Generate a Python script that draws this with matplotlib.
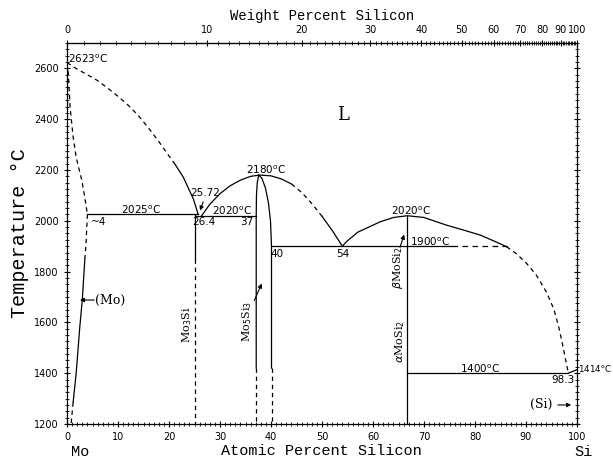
import numpy as np
import matplotlib
matplotlib.use('Agg')
import matplotlib.pyplot as plt
from matplotlib.ticker import MultipleLocator, FixedLocator

# ---- phase boundary data (atomic % Si, temperature in C) ----
mo_liq_dash_x = [0, 2, 4, 6, 8, 10, 12, 14, 16, 18, 20, 21]
mo_liq_dash_T = [2623, 2597, 2575, 2552, 2522, 2490, 2455, 2414, 2365, 2312, 2255, 2228]
mo_liq_solid_x = [21, 22.8, 24.8, 25.72]
mo_liq_solid_T = [2228, 2172, 2085, 2025]

mo_solidus_x = [0, 0.25, 0.6, 1.2, 1.8, 2.4, 2.9, 3.5, 4]
mo_solidus_T = [2623, 2580, 2450, 2330, 2250, 2200, 2160, 2090, 2025]

mo_solvus_top_x = [4, 3.7, 3.5]
mo_solvus_top_T = [2025, 1900, 1850]
mo_solvus_mid_x = [3.5, 3.0, 2.5, 1.8, 1.2]
mo_solvus_mid_T = [1850, 1690, 1580, 1400, 1285]
mo_solvus_low_x = [1.2, 0.8]
mo_solvus_low_T = [1285, 1200]

liq2_x = [26.4, 28, 30, 32, 34, 36, 37.8, 40, 42, 44]
liq2_T = [2020, 2065, 2107, 2138, 2160, 2175, 2180, 2177, 2165, 2145]
liq2_dash_x = [44, 46, 48, 50]
liq2_dash_T = [2145, 2112, 2068, 2018]
liq2_end_x = [50, 52, 54]
liq2_end_T = [2018, 1962, 1900]

m53_left_x = [37.6, 37.3, 37.15, 37.1, 37.1]
m53_left_T = [2180, 2150, 2100, 2020, 1420]
m53_right_x = [37.6, 38.2, 38.9, 39.5, 39.9, 40.1, 40.1]
m53_right_T = [2180, 2168, 2130, 2070, 2000, 1900, 1420]

msi2_liq_x = [54, 54.8, 57, 61.4, 64, 66.7, 70, 74.4, 78, 81, 84, 86.2]
msi2_liq_T = [1900, 1918, 1955, 1996, 2013, 2020, 2013, 1983, 1962, 1944, 1918, 1898]
si_liq_dash_x = [86.2, 88, 90, 92, 94, 95.5, 96.5, 97.3, 97.8, 98.3]
si_liq_dash_T = [1898, 1872, 1835, 1787, 1720, 1650, 1575, 1500, 1450, 1400]
si_end_x = [98.3, 100]
si_end_T = [1400, 1414]

mo3si_x = 25
mo5si3_left = 37.1
mo5si3_right = 40.1
mosi2_x = 66.7

# horizontal invariants: (T, x_start, x_end)
iso_2025 = (2025, 4, 25.72)
iso_2020 = (2020, 25, 37.1)
iso_1900_solid = (1900, 40.1, 75.4)
iso_1900_dash = (1900, 75.4, 86.2)
iso_1400 = (1400, 66.7, 98.3)

wt_ticks = [0, 10, 20, 30, 40, 50, 60, 70, 80, 90, 100]

M_SI = 28.0855
M_MO = 95.95


def at_to_wt(x):
    x = np.clip(np.asarray(x, dtype=float), 0, 100)
    return 100 * x * M_SI / (x * M_SI + (100 - x) * M_MO)


def wt_to_at(w):
    w = np.clip(np.asarray(w, dtype=float), 0, 100)
    return 100 * (w / M_SI) / (w / M_SI + (100 - w) / M_MO)


plt.rcParams['font.family'] = 'DejaVu Sans'
fig = plt.figure(figsize=(6.13, 4.59), dpi=100)
ax = fig.add_axes([67 / 613, 1 - 424 / 459, 510 / 613, 381 / 459])

lw = 0.9
dash = (0, (3.5, 3))
k = 'black'

ax.plot(mo_liq_dash_x, mo_liq_dash_T, color=k, lw=lw, ls=dash)
ax.plot(mo_liq_solid_x, mo_liq_solid_T, color=k, lw=lw)
ax.plot(mo_solidus_x, mo_solidus_T, color=k, lw=lw, ls=dash)
ax.plot(mo_solvus_top_x, mo_solvus_top_T, color=k, lw=lw, ls=dash)
ax.plot(mo_solvus_mid_x, mo_solvus_mid_T, color=k, lw=lw)
ax.plot(mo_solvus_low_x, mo_solvus_low_T, color=k, lw=lw, ls=dash)

ax.plot(liq2_x, liq2_T, color=k, lw=lw)
ax.plot(liq2_dash_x, liq2_dash_T, color=k, lw=lw, ls=dash)
ax.plot(liq2_end_x, liq2_end_T, color=k, lw=lw)

ax.plot(m53_left_x, m53_left_T, color=k, lw=lw)
ax.plot(m53_right_x, m53_right_T, color=k, lw=lw)
ax.plot([mo5si3_left, mo5si3_left], [1420, 1200], color=k, lw=lw, ls=dash)
ax.plot([mo5si3_right, mo5si3_right], [1420, 1200], color=k, lw=lw, ls=dash)

ax.plot([mo3si_x, mo3si_x], [2025, 1850], color=k, lw=lw)
ax.plot([mo3si_x, mo3si_x], [1850, 1200], color=k, lw=lw, ls=dash)

ax.plot(msi2_liq_x, msi2_liq_T, color=k, lw=lw)
ax.plot(si_liq_dash_x, si_liq_dash_T, color=k, lw=lw, ls=dash)
ax.plot(si_end_x, si_end_T, color=k, lw=lw)
ax.plot([mosi2_x, mosi2_x], [2020, 1200], color=k, lw=lw)

for T, x0, x1 in [iso_2025, iso_2020, iso_1900_solid, iso_1400]:
    ax.plot([x0, x1], [T, T], color=k, lw=lw)
ax.plot([iso_1900_dash[1], iso_1900_dash[2]], [iso_1900_dash[0]] * 2, color=k, lw=lw,
        ls=(0, (4.5, 3.5)))

# ---- labels ----
fs = 7.5
deg = '$^{\\rm o}$C'
ax.text(0.2, 2637, '2623' + deg, fontsize=fs, va='center', ha='left')
ax.text(27.1, 2109, '25.72', fontsize=fs, ha='center', va='center')
ax.annotate('', xy=(25.9, 2030), xytext=(26.9, 2085),
            arrowprops=dict(arrowstyle='-|>', color=k, lw=0.8, mutation_scale=6))
ax.text(14.5, 2043, '2025' + deg, fontsize=fs, ha='center', va='center')
ax.text(4.6, 1995, '~4', fontsize=fs, ha='left', va='center')
ax.text(32.4, 2039, '2020' + deg, fontsize=fs, ha='center', va='center')
ax.text(26.9, 1995, '26.4', fontsize=fs, ha='center', va='center')
ax.text(35.3, 1995, '37', fontsize=fs, ha='center', va='center')
ax.text(39.0, 2200, '2180' + deg, fontsize=fs, ha='center', va='center')
ax.text(41.2, 1869, '40', fontsize=fs, ha='center', va='center')
ax.text(54.1, 1869, '54', fontsize=fs, ha='center', va='center')
ax.text(67.5, 2039, '2020' + deg, fontsize=fs, ha='center', va='center')
ax.text(71.2, 1917, '1900' + deg, fontsize=fs, ha='center', va='center')
ax.text(81.0, 1417, '1400' + deg, fontsize=fs, ha='center', va='center')
ax.text(97.3, 1373, '98.3', fontsize=fs, ha='center', va='center')
ax.text(100.2, 1420, '1414' + deg, fontsize=6.3, ha='left', va='center', clip_on=False)

ax.text(92.9, 1275, '(Si)', fontsize=9, family='DejaVu Serif', ha='center', va='center')
ax.annotate('', xy=(99.4, 1275), xytext=(95.7, 1275),
            arrowprops=dict(arrowstyle='-|>', color=k, lw=0.8, mutation_scale=6))
ax.text(8.4, 1688, '(Mo)', fontsize=9, family='DejaVu Serif', ha='center', va='center')
ax.annotate('', xy=(2.0, 1688), xytext=(5.9, 1688),
            arrowprops=dict(arrowstyle='-|>', color=k, lw=0.8, mutation_scale=6))

ax.text(23.5, 1590, 'Mo$_3$Si', fontsize=8, family='DejaVu Serif', rotation=90,
        ha='center', va='center')
ax.text(35.3, 1602, 'Mo$_5$Si$_3$', fontsize=8, family='DejaVu Serif', rotation=90,
        ha='center', va='center')
ax.annotate('', xy=(38.4, 1763), xytext=(36.5, 1676),
            arrowprops=dict(arrowstyle='-|>', color=k, lw=0.8, mutation_scale=6))
ax.text(64.9, 1814, '$\\beta$MoSi$_2$', fontsize=8, family='DejaVu Serif', rotation=90,
        ha='center', va='center')
ax.annotate('', xy=(66.3, 1956), xytext=(65.1, 1885),
            arrowprops=dict(arrowstyle='-|>', color=k, lw=0.8, mutation_scale=6))
ax.text(65.3, 1523, '$\\alpha$MoSi$_2$', fontsize=8, family='DejaVu Serif', rotation=90,
        ha='center', va='center')
ax.text(54.1, 2417, 'L', fontsize=13, family='DejaVu Serif', ha='center', va='center')

# ---- axes ----
ax.set_xlim(0, 100)
ax.set_ylim(1200, 2700)
ax.xaxis.set_major_locator(MultipleLocator(10))
ax.xaxis.set_minor_locator(MultipleLocator(1))
ax.yaxis.set_major_locator(FixedLocator(list(range(1200, 2700, 200))))
ax.yaxis.set_minor_locator(MultipleLocator(25))
ax.tick_params(which='both', direction='inout', labelsize=7, right=True)
ax.tick_params(which='major', length=5, width=0.8)
ax.tick_params(which='minor', length=3, width=0.6)
for s in ax.spines.values():
    s.set_linewidth(0.9)

top = ax.secondary_xaxis('top', functions=(at_to_wt, wt_to_at))
top.set_xticks(wt_ticks)
top.xaxis.set_minor_locator(FixedLocator(list(range(0, 101))))
top.tick_params(which='both', direction='inout', labelsize=7)
top.tick_params(which='major', length=5, width=0.8)
top.tick_params(which='minor', length=3, width=0.6)

fig.text(322 / 613, 1 - 16 / 459, 'Weight Percent Silicon', family='Liberation Mono',
         fontsize=10, ha='center', va='center')
fig.text(321 / 613, 1 - 451 / 459, 'Atomic Percent Silicon', family='Liberation Mono',
         fontsize=11, ha='center', va='center')
fig.text(20 / 613, 1 - 233 / 459, 'Temperature \u00b0C', family='Liberation Mono',
         fontsize=14.5, ha='center', va='center', rotation=90)
fig.text(80 / 613, 1 - 452 / 459, 'Mo', family='Liberation Mono', fontsize=11,
         ha='center', va='center')
fig.text(583 / 613, 1 - 452 / 459, 'Si', family='Liberation Mono', fontsize=11,
         ha='center', va='center')

fig.savefig('out.png', dpi=100)
